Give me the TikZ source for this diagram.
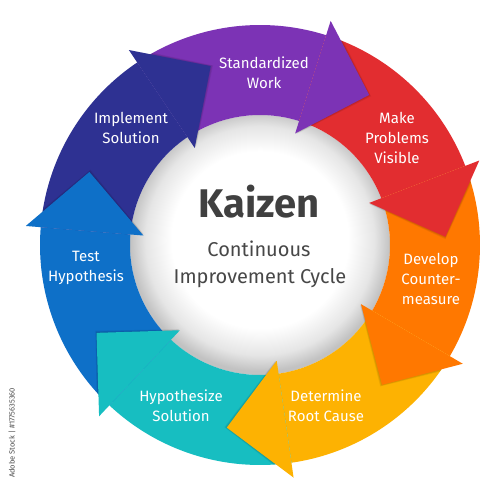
\documentclass[tikz,border=0pt]{standalone}
\usepackage{fontspec}
\setmainfont{Fira Sans}
\definecolor{cnavy}{HTML}{2E3192}
\definecolor{cpurple}{HTML}{7C33B5}
\definecolor{cred}{HTML}{E22D30}
\definecolor{corange}{HTML}{FF7800}
\definecolor{cyellow}{HTML}{FDB202}
\definecolor{cteal}{HTML}{17BEC1}
\definecolor{cblue}{HTML}{0E70C8}
\definecolor{ctitle}{HTML}{404040}
\definecolor{csub}{HTML}{474747}
\pgfdeclareradialshading{innerglow}{\pgfpoint{0bp}{1.5bp}}{color(0bp)=(white); color(17bp)=(white); color(22bp)=(black!10); color(25bp)=(black!24); color(50bp)=(black!24)}
\tikzset{
  lbl/.style={text=white, align=center, font=\fontsize{15}{20}\selectfont, inner sep=0pt},
}
\begin{document}
\begin{tikzpicture}[x=1pt,y=1pt]
\useasboundingbox (-260,-255) rectangle (240,245);
\fill[white] (-260,-255) rectangle (240,245);
% inner disc
\shade[shading=innerglow] (0,0) circle (130);
% bodies
\foreach \c [count=\k] in {cpurple,cred,corange,cyellow,cteal,cblue,cnavy}{
  \pgfmathsetmacro{\a}{72.5-(\k-2)*51.428571}
  \pgfmathsetmacro{\b}{72.5-(\k-1)*51.428571}
  \fill[\c] (\a:220) arc[start angle=\a, end angle=\b, radius=220] -- (\b:130) arc[start angle=\b, end angle=\a, radius=130] -- cycle;
}
% soft shadows of heads, kept on the ring
\begin{scope}
\clip (0,0) circle (220);
\foreach \c [count=\k] in {cpurple,cred,corange,cyellow,cteal,cblue,cnavy}{
  \pgfmathsetmacro{\b}{72.5-(\k-1)*51.428571}
  \pgfmathsetmacro{\t}{\b-18.53}
  \foreach \s in {0.25,0.5,0.75}{
    \fill[black, opacity=0.06, rotate=-\s] (\b:235) -- (\t:185.6) -- (\b:117) -- cycle;
  }
}
\end{scope}
% heads
\foreach \c [count=\k] in {cpurple,cred,corange,cyellow,cteal,cblue,cnavy}{
  \pgfmathsetmacro{\b}{72.5-(\k-1)*51.428571}
  \pgfmathsetmacro{\t}{\b-18.53}
  \fill[\c] (\b:235) -- (\t:185.6) -- (\b:117) -- cycle;
}
% labels
\node[lbl] (std) at (4,172) {Standardized\\Work};
\node[lbl] (mpv) at (137,107) {Make\\Problems\\Visible};
\node[lbl] (dev) at (171,-34) {Develop\\Counter-\\measure};
\node[lbl] (drc) at (66,-161) {Determine\\Root Cause};
\node[lbl] (hyp) at (-79,-161) {Hypothesize\\Solution};
\node[lbl] (tst) at (-174,-23) {Test\\Hypothesis};
\node[lbl] (imp) at (-129,117) {Implement\\Solution};
% centre text
\node[anchor=base, text=ctitle, font=\fontsize{40}{40}\selectfont\bfseries, inner sep=0pt] (kai) at (-1,27) {Kaizen};
\node[anchor=base, text=csub, font=\fontsize{20}{24}\selectfont, inner sep=0pt] (con) at (-1,-12) {Continuous};
\node[anchor=base, text=csub, font=\fontsize{20}{24}\selectfont, inner sep=0pt] (imc) at (0,-38) {Improvement Cycle};
% stock id
\node[rotate=90, text=black!70, font=\fontsize{7.5}{8}\selectfont, inner sep=0pt] (sid) at (-248,-188) {Adobe Stock | \#1775635360};
\end{tikzpicture}
\end{document}
